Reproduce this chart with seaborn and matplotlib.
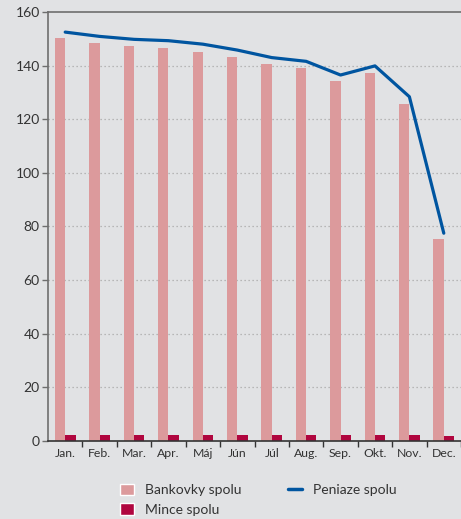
import numpy as np
import pandas as pd
import matplotlib
matplotlib.use('Agg')
import matplotlib.pyplot as plt
import seaborn as sns
from matplotlib.patches import Patch
from matplotlib.lines import Line2D

# data
months = ['Jan.', 'Feb.', 'Mar.', 'Apr.', 'Máj', 'Jún', 'Júl', 'Aug.', 'Sep.', 'Okt.', 'Nov.', 'Dec.']
bankovky = [150.3, 148.4, 147.3, 146.6, 145.1, 143.2, 140.6, 139.1, 134.3, 137.3, 125.7, 75.3]
mince = [2.2, 2.2, 2.2, 2.2, 2.2, 2.2, 2.2, 2.2, 2.2, 2.2, 2.2, 1.9]
peniaze = [152.5, 150.9, 149.8, 149.3, 148.0, 145.8, 143.0, 141.6, 136.5, 139.9, 128.4, 77.5]
yticks = [0, 20, 40, 60, 80, 100, 120, 140, 160]

bg = '#e1e2e4'
pink = '#dc9a9c'
red = '#b0063f'
blue = '#0055a0'

sns.set_theme(style='white')
plt.rcParams['font.family'] = ['Lato', 'DejaVu Sans']

bars = pd.DataFrame({
    'mesiac': months * 2,
    'hodnota': bankovky + mince,
    'seria': ['Bankovky spolu'] * 12 + ['Mince spolu'] * 12,
})

fig = plt.figure(figsize=(4.61, 5.19), dpi=100, facecolor=bg)
ax = fig.add_axes([48 / 461, 1 - 441 / 519, 1 - 48 / 461, 429 / 519])
ax.set_facecolor(bg)

sns.barplot(data=bars, x='mesiac', y='hodnota', hue='seria', order=months,
            palette=[pink, red], width=0.6, saturation=1, linewidth=0,
            ax=ax, legend=False)
sns.lineplot(x=np.arange(len(months)), y=peniaze, color=blue, linewidth=2.3,
             ax=ax, label='Peniaze spolu')

ax.set_xlim(-0.5, len(months) - 0.5)
ax.set_ylim(0, 160)
ax.set_yticks(yticks)
ax.set_xlabel('')
ax.set_ylabel('')

# dotted grid
for v in yticks[1:-1]:
    ax.axhline(v, color='#a8a8a8', linestyle=(0, (1, 2.2)), linewidth=0.9, zorder=0)

# spines
for s in ['top', 'left']:
    ax.spines[s].set_color('#6e6e6e')
    ax.spines[s].set_linewidth(1.2)
ax.spines['bottom'].set_color('#333333')
ax.spines['bottom'].set_linewidth(1.2)
ax.spines['right'].set_visible(False)

ax.tick_params(axis='y', direction='out', length=4, width=1, color='#6e6e6e',
               labelsize=10, labelcolor='#333333', pad=2, left=True)
ax.tick_params(axis='x', which='major', length=0, labelsize=8.8,
               labelcolor='#333333', pad=5)
ax.set_xticks(np.arange(len(months)) + 0.5, minor=True)
ax.tick_params(axis='x', which='minor', direction='out', length=4, width=1,
               color='#333333', bottom=True)

# legend
handles = [Patch(facecolor=pink, label='Bankovky spolu'),
           Patch(facecolor=red, label='Mince spolu'),
           Line2D([0], [0], color=blue, linewidth=2.5, label='Peniaze spolu')]
ax.legend(handles=handles, ncol=2, loc='upper left', bbox_to_anchor=(0.145, -0.07),
          frameon=False, fontsize=10, handlelength=1.0, handleheight=0.9,
          labelspacing=0.5, columnspacing=3.3, handletextpad=0.8,
          labelcolor='#333333')

fig.savefig('out.png', dpi=100, facecolor=bg)
